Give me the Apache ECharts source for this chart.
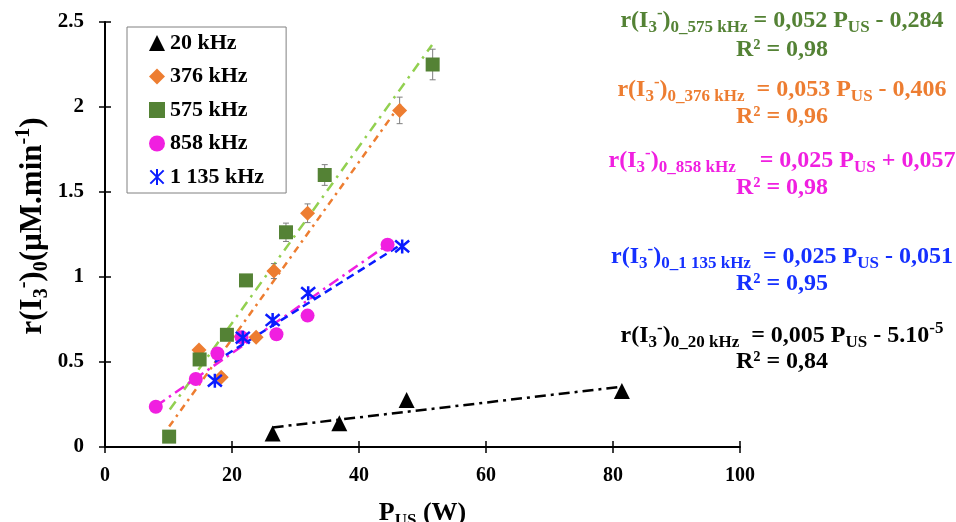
<!DOCTYPE html>
<html><head><meta charset="utf-8">
<script src="https://cdn.jsdelivr.net/npm/echarts@6/dist/echarts.min.js"></script>
<style>html,body{margin:0;padding:0;background:#fff}#c{width:956px;height:522px}</style>
</head><body><div id="c"></div>
<script>
// ---- data ----
const seriesNames = ['20 kHz', '376 kHz', '575 kHz', '858 kHz', '1 135 kHz'];
const xTicks = [0, 20, 40, 60, 80, 100];
const yTicks = [0, 0.5, 1, 1.5, 2, 2.5];

const pts20   = [[26.4, 0.08], [36.9, 0.14], [47.5, 0.277], [81.4, 0.33]];
const pts376  = [[14.8, 0.57], [18.3, 0.41], [23.8, 0.645], [26.6, 1.035], [31.9, 1.375], [46.4, 1.98]];
const err376  = [0.02, 0.02, 0.015, 0.044, 0.055, 0.078];
const pts575  = [[10.1, 0.061], [14.9, 0.515], [19.2, 0.66], [22.2, 0.98], [28.5, 1.263], [34.6, 1.60], [51.6, 2.25]];
const err575  = [0.015, 0.02, 0.015, 0.03, 0.054, 0.061, 0.09];
const pts858  = [[8.0, 0.237], [14.3, 0.40], [17.7, 0.55], [21.5, 0.645], [27.0, 0.663], [31.9, 0.773], [44.5, 1.19]];
const pts1135 = [[17.3, 0.39], [21.7, 0.643], [26.4, 0.747], [32.0, 0.905], [46.8, 1.18]];

// trend line end points (as drawn in the reference)
const trend20   = [[26.4, 0.115], [81.4, 0.355]];
const trend376  = [[10.1, 0.12], [46.6, 2.02]];
const trend575  = [[10.2, 0.22], [51.5, 2.365]];
const trend858  = [[8.0, 0.24], [44.5, 1.19]];
const trend1135 = [[17.3, 0.50], [46.6, 1.19]];

// equation annotations
const eqLines = [
  {color: '#548235', sub: '0_575 kHz', gap: '', rest: ' = 0,052 P', tail: ' - 0,284', r2: '0,98'},
  {color: '#ed7d31', sub: '0_376 kHz', gap: '  ', rest: '= 0,053 P', tail: ' - 0,406', r2: '0,96'},
  {color: '#f01fe0', sub: '0_858 kHz', gap: '    ', rest: '= 0,025 P', tail: ' + 0,057', r2: '0,98'},
  {color: '#1530ff', sub: '0_1 135 kHz', gap: '  ', rest: '= 0,025 P', tail: ' - 0,051', r2: '0,95'},
  {color: '#000000', sub: '0_20 kHz', gap: '  ', rest: '= 0,005 P', tail: ' - 5.10', sup: '-5', r2: '0,84'}
];
const eqY = [[21, 50], [90, 117], [161, 188], [257, 284], [336, 362]];

// ---- chart ----
const F = '"Liberation Serif", "Times New Roman", serif';
const C = {k: '#000000', o: '#ed7d31', g: '#548235', gl: '#92d050', m: '#f01fe0', b: '#0a1cff'};

function richFor(color, big, small) {
  return {
    m: {fontSize: big, fontWeight: 'bold', fontFamily: F, fill: color, lineHeight: big + 7, verticalAlign: 'middle'},
    s: {fontSize: small, fontWeight: 'bold', fontFamily: F, fill: color, lineHeight: small, verticalAlign: 'bottom'},
    p: {fontSize: small, fontWeight: 'bold', fontFamily: F, fill: color, lineHeight: small, verticalAlign: 'top'}
  };
}

const graphics = [];
eqLines.forEach((e, i) => {
  let t = '{m|r(I}{s|3}{p|-}{m|)}{s|' + e.sub + '}{m|' + e.gap + e.rest + '}{s|US}{m|' + e.tail + '}';
  if (e.sup) t += '{p|' + e.sup + '}';
  graphics.push({type: 'text', x: 782, y: eqY[i][0], style: {text: t, rich: richFor(e.color, 24, 17), align: 'center', verticalAlign: 'middle'}});
  graphics.push({type: 'text', x: 782, y: eqY[i][1], style: {text: '{m|R² = ' + e.r2 + '}', rich: richFor(e.color, 24, 17), align: 'center', verticalAlign: 'middle'}});
});
// y-axis title
graphics.push({
  type: 'text', x: 33, y: 226, rotation: Math.PI / 2,
  style: {
    text: '{m|r(I}{s|3}{p|-}{m|)}{s|0}{m|(µM.min}{p|-1}{m|)}',
    rich: richFor('#000', 31, 20),
    align: 'center', verticalAlign: 'middle'
  }
});

function trend(data, color, type) {
  return {type: 'line', data: data, symbol: 'none', silent: true, z: 1,
    lineStyle: {color: color, width: 2.5, type: type}};
}
function errBars(pts, errs) {
  return {
    type: 'custom', silent: true, z: 2,
    data: pts.map((p, i) => [p[0], p[1], errs[i]]),
    encode: {x: 0, y: 1},
    renderItem: function (params, api) {
      const x = api.value(0), y = api.value(1), e = api.value(2);
      const lo = api.coord([x, y - e]), hi = api.coord([x, y + e]);
      const st = {stroke: '#7f7f7f', lineWidth: 1};
      return {type: 'group', children: [
        {type: 'line', shape: {x1: lo[0], y1: lo[1], x2: hi[0], y2: hi[1]}, style: st},
        {type: 'line', shape: {x1: lo[0] - 3, y1: lo[1], x2: lo[0] + 3, y2: lo[1]}, style: st},
        {type: 'line', shape: {x1: hi[0] - 3, y1: hi[1], x2: hi[0] + 3, y2: hi[1]}, style: st}
      ]};
    }
  };
}

const starPath = 'path://M0,0L10,10M10,0L0,10M5,-1L5,11';
const tickStyle = {color: '#000', width: 1.5};
const gridRect = {left: 105, right: 216, top: 22, bottom: 75, containLabel: false, outerBoundsMode: 'none'};

const option = {
  animation: false,
  backgroundColor: '#ffffff',
  grid: [Object.assign({}, gridRect), Object.assign({}, gridRect)],
  legend: {
    orient: 'vertical', left: 127, top: 27,
    data: seriesNames,
    padding: [5, 22, 5, 22], itemGap: 11.5, itemWidth: 16, itemHeight: 16,
    borderColor: '#808080', borderWidth: 1, backgroundColor: '#fff',
    textStyle: {fontFamily: F, fontWeight: 'bold', fontSize: 22, color: '#000', lineHeight: 22}
  },
  xAxis: [{
    type: 'value', gridIndex: 0, min: xTicks[0], max: xTicks[xTicks.length - 1], interval: xTicks[1] - xTicks[0],
    splitLine: {show: false},
    axisLine: {lineStyle: {color: '#000', width: 2}},
    axisTick: {length: 6, lineStyle: tickStyle},
    axisLabel: {fontFamily: F, fontWeight: 'bold', fontSize: 20, color: '#000', margin: 19},
    name: '{p|P}{s|US}{p| (W)}', nameLocation: 'middle', nameGap: 50,
    nameTextStyle: {rich: {
      p: {fontSize: 26, fontWeight: 'bold', fontFamily: F, color: '#000', lineHeight: 32, verticalAlign: 'middle'},
      s: {fontSize: 17, fontWeight: 'bold', fontFamily: F, color: '#000', lineHeight: 17, verticalAlign: 'bottom'}
    }}
  }, {
    type: 'value', gridIndex: 1, position: 'bottom',
    min: xTicks[0], max: xTicks[xTicks.length - 1], interval: xTicks[1] - xTicks[0],
    splitLine: {show: false}, axisLine: {show: false}, axisLabel: {show: false},
    axisTick: {show: true, inside: true, length: 6, lineStyle: tickStyle}
  }],
  yAxis: [{
    type: 'value', gridIndex: 0, min: yTicks[0], max: yTicks[yTicks.length - 1], interval: yTicks[1] - yTicks[0],
    splitLine: {show: false},
    axisLine: {show: true, lineStyle: {color: '#000', width: 2}},
    axisTick: {show: true, length: 6, lineStyle: tickStyle},
    axisLabel: {fontFamily: F, fontWeight: 'bold', fontSize: 21, color: '#000', margin: 21}
  }, {
    type: 'value', gridIndex: 1, position: 'left',
    min: yTicks[0], max: yTicks[yTicks.length - 1], interval: yTicks[1] - yTicks[0],
    splitLine: {show: false}, axisLine: {show: false}, axisLabel: {show: false},
    axisTick: {show: true, inside: true, length: 6, lineStyle: tickStyle}
  }],
  graphic: graphics,
  series: [
    trend(trend20, C.k, [11, 5, 3, 5]),
    trend(trend376, C.o, [7, 5, 2.5, 5]),
    trend(trend575, C.gl, [10, 6, 2.5, 6]),
    trend(trend858, C.m, [11, 5, 2.5, 5]),
    trend(trend1135, C.b, [8, 5]),
    errBars(pts376, err376),
    errBars(pts575, err575),
    {name: seriesNames[0], type: 'scatter', z: 3, data: pts20, symbol: 'triangle', symbolSize: 16, itemStyle: {color: C.k, opacity: 1}},
    {name: seriesNames[1], type: 'scatter', z: 3, data: pts376, symbol: 'diamond', symbolSize: 15, itemStyle: {color: C.o, opacity: 1}},
    {name: seriesNames[2], type: 'scatter', z: 3, data: pts575, symbol: 'rect', symbolSize: 14, itemStyle: {color: C.g, opacity: 1}},
    {name: seriesNames[3], type: 'scatter', z: 3, data: pts858, symbol: 'circle', symbolSize: 14, itemStyle: {color: C.m, opacity: 1}},
    {name: seriesNames[4], type: 'scatter', z: 3, data: pts1135, symbol: starPath, symbolSize: 14,
      itemStyle: {color: 'rgba(0,0,0,0)', borderColor: C.b, borderWidth: 2.5, opacity: 1}}
  ]
};
const chart = echarts.init(document.getElementById('c'), null, {renderer: 'canvas'});
chart.setOption(option);
</script>
</body></html>
